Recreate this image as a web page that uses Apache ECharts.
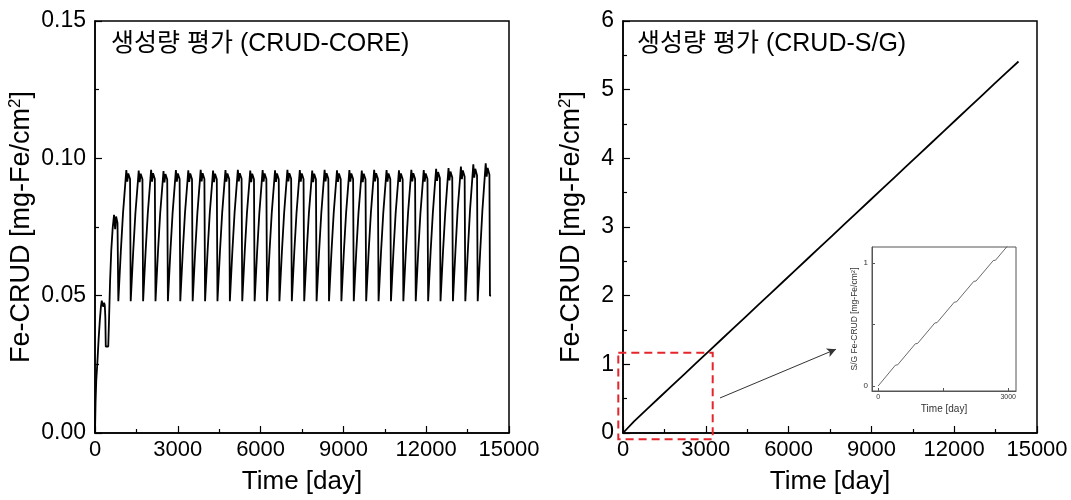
<!DOCTYPE html>
<html><head><meta charset="utf-8">
<script src="https://cdn.jsdelivr.net/npm/echarts@6/dist/echarts.min.js"></script>
<style>html,body{margin:0;padding:0;background:#fff}#c{width:1071px;height:500px}</style>
</head><body><div id="c"></div>
<script>
// ---- Data ----
const xTicks = [0, 3000, 6000, 9000, 12000, 15000];
const coreTitle = '생성량 평가 (CRUD-CORE)';
const sgTitle = '생성량 평가 (CRUD-S/G)';

// CRUD-CORE: time [day]
const coreT = [
  0,20,45,85,130,175,215,245,270,300,330,355,375,390,480,505,545,590,640,690,730,765,815,
  845,870,935,1015,1095,1135,1170,1205,1270,
  1294,1319,1384,1464,1544,1584,1619,1654,1719,
  1743,1768,1833,1913,1993,2033,2068,2103,2168,
  2192,2217,2282,2362,2442,2482,2517,2552,2617,
  2641,2666,2731,2811,2891,2931,2966,3001,3066,
  3090,3115,3180,3260,3340,3380,3415,3450,3515,
  3539,3564,3629,3709,3789,3829,3864,3899,3964,
  3988,4013,4078,4158,4238,4278,4313,4348,4413,
  4437,4462,4527,4607,4687,4727,4762,4797,4862,
  4886,4911,4976,5056,5136,5176,5211,5246,5311,
  5335,5360,5425,5505,5585,5625,5660,5695,5760,
  5784,5809,5874,5954,6034,6074,6109,6144,6209,
  6233,6258,6323,6403,6483,6523,6558,6593,6658,
  6682,6707,6772,6852,6932,6972,7007,7042,7107,
  7131,7156,7221,7301,7381,7421,7456,7491,7556,
  7580,7605,7670,7750,7830,7870,7905,7940,8005,
  8029,8054,8119,8199,8279,8319,8354,8389,8454,
  8478,8503,8568,8648,8728,8768,8803,8838,8903,
  8927,8952,9017,9097,9177,9217,9252,9287,9352,
  9376,9401,9466,9546,9626,9666,9701,9736,9801,
  9825,9850,9915,9995,10075,10115,10150,10185,10250,
  10274,10299,10364,10444,10524,10564,10599,10634,10699,
  10723,10748,10813,10893,10973,11013,11048,11083,11148,
  11172,11197,11262,11342,11422,11462,11497,11532,11597,
  11621,11646,11711,11791,11871,11911,11946,11981,12046,
  12070,12095,12160,12240,12320,12360,12395,12430,12495,
  12519,12544,12609,12689,12769,12809,12844,12879,12944,
  12968,12993,13058,13138,13218,13258,13293,13328,13393,
  13417,13442,13507,13587,13667,13707,13742,13777,13842,
  13866,13891,13956,14036,14116,14156,14191,14226,14291,
  14310,14350
];
// CRUD-CORE: Fe-CRUD [mg-Fe/cm2]
const coreV = [
  0,0.011,0.019,0.0255,0.034,0.041,0.046,0.0482,0.0468,0.046,0.0474,0.0465,0.042,0.0315,0.0315,0.040,0.055,0.0666,0.0745,0.0794,0.0742,0.0788,0.0765,
  0.048,0.0482,0.066,0.080,0.0905,0.0957,0.0915,0.0945,0.0925,
  0.048,0.0482,0.066,0.080,0.0903,0.0955,0.0913,0.0944,0.0924,
  0.048,0.0482,0.066,0.080,0.0905,0.0958,0.0915,0.0946,0.0925,
  0.048,0.0482,0.066,0.080,0.0902,0.0954,0.0912,0.0943,0.0923,
  0.048,0.0482,0.066,0.080,0.0905,0.0957,0.0915,0.0945,0.0925,
  0.048,0.0482,0.066,0.080,0.0904,0.0956,0.0914,0.0945,0.0924,
  0.048,0.0482,0.066,0.080,0.0905,0.0958,0.0916,0.0946,0.0925,
  0.048,0.0482,0.066,0.080,0.0903,0.0955,0.0913,0.0944,0.0924,
  0.048,0.0482,0.066,0.080,0.0905,0.0957,0.0915,0.0945,0.0925,
  0.048,0.0482,0.066,0.080,0.0906,0.0958,0.0916,0.0946,0.0926,
  0.048,0.0482,0.066,0.080,0.0903,0.0955,0.0913,0.0944,0.0924,
  0.048,0.0482,0.066,0.080,0.0905,0.0957,0.0915,0.0945,0.0925,
  0.048,0.0482,0.066,0.080,0.0904,0.0956,0.0914,0.0945,0.0924,
  0.048,0.0482,0.066,0.080,0.0906,0.0958,0.0916,0.0946,0.0926,
  0.048,0.0482,0.066,0.080,0.0905,0.0957,0.0915,0.0945,0.0925,
  0.048,0.0482,0.066,0.080,0.0903,0.0955,0.0913,0.0944,0.0924,
  0.048,0.0482,0.066,0.080,0.0906,0.0958,0.0916,0.0946,0.0926,
  0.048,0.0482,0.066,0.080,0.0904,0.0956,0.0914,0.0945,0.0924,
  0.048,0.0482,0.066,0.080,0.0905,0.0957,0.0915,0.0945,0.0925,
  0.048,0.0482,0.066,0.080,0.0903,0.0955,0.0913,0.0944,0.0924,
  0.048,0.0482,0.066,0.080,0.0906,0.0958,0.0916,0.0946,0.0926,
  0.048,0.0482,0.066,0.080,0.0905,0.0957,0.0915,0.0945,0.0925,
  0.048,0.0482,0.066,0.080,0.0904,0.0956,0.0914,0.0945,0.0924,
  0.048,0.0482,0.066,0.080,0.0906,0.0958,0.0916,0.0946,0.0926,
  0.048,0.0482,0.066,0.080,0.0905,0.0957,0.0915,0.0945,0.0925,
  0.048,0.0482,0.066,0.080,0.0910,0.0962,0.0918,0.0950,0.0928,
  0.048,0.0482,0.066,0.080,0.0912,0.0965,0.0920,0.0952,0.0930,
  0.048,0.0482,0.066,0.081,0.0916,0.0970,0.0924,0.0956,0.0933,
  0.048,0.0482,0.066,0.081,0.0922,0.0978,0.0930,0.0962,0.0938,
  0.048,0.0482,0.066,0.081,0.0925,0.0982,0.0933,0.0965,0.0940,
  0.050,0.050
];

// CRUD-S/G: time [day] and Fe-CRUD [mg-Fe/cm2]
const sgT = [0,400,450,860,910,1309,1359,1758,1808,2207,2257,2656,2706,3105,3155,3554,3604,4003,4053,4452,4502,4901,4951,5350,5400,5799,5849,6248,6298,6697,6747,7146,7196,7595,7645,8044,8094,8493,8543,8942,8992,9391,9441,9840,9890,10289,10339,10738,10788,11187,11237,11636,11686,12085,12135,12534,12584,12983,13033,13432,13482,13881,13931,14330];
const sgV = [0,0.170,0.172,0.344,0.346,0.513,0.515,0.682,0.684,0.851,0.853,1.020,1.022,1.189,1.191,1.358,1.360,1.527,1.529,1.696,1.698,1.865,1.867,2.034,2.036,2.203,2.205,2.372,2.374,2.541,2.543,2.710,2.712,2.879,2.881,3.048,3.050,3.217,3.219,3.386,3.388,3.555,3.557,3.724,3.726,3.893,3.895,4.062,4.064,4.231,4.233,4.400,4.402,4.569,4.571,4.738,4.740,4.907,4.909,5.076,5.078,5.245,5.247,5.410];

// Zoom box region and arrow (data coordinates of the S/G panel)
const zoomBox = [[-170, -0.09], [3250, 1.17]];
const arrowLine = [[3514, 0.51], [7717, 1.22]];

// ---- Build ----
const coreData = coreT.map((t, i) => [t, coreV[i]]);
const sgData = sgT.map((t, i) => [t, sgV[i]]);

const FONT = '"Liberation Sans", Arial, "Noto Sans CJK KR", sans-serif';
const KFONT = '"Liberation Sans", "Noto Sans CJK KR", sans-serif';

function mainX(gi) {
  return {
    type: 'value', gridIndex: gi, min: 0, max: 15000, interval: 3000,
    name: 'Time [day]', nameLocation: 'middle', nameGap: 36,
    nameTextStyle: {fontFamily: FONT, fontSize: 26, color: '#000'},
    axisLine: {show: true, onZero: false, lineStyle: {color: '#000', width: 1.5}},
    axisTick: {show: true, inside: true, length: 7, lineStyle: {color: '#000', width: 1.2}},
    minorTick: {show: true, splitNumber: 2, length: 4, lineStyle: {color: '#000', width: 1.2}},
    axisLabel: {fontFamily: FONT, fontSize: 22, color: '#000', margin: 6, formatter: v => String(v)},
    splitLine: {show: false}
  };
}
function mainY(gi, max, interval, fmt, gap) {
  return {
    type: 'value', gridIndex: gi, min: 0, max: max, interval: interval,
    name: 'Fe-CRUD [mg-Fe/cm{sup|2}]', nameLocation: 'middle', nameGap: gap,
    nameTextStyle: {fontFamily: FONT, fontSize: 27, color: '#000',
      rich: {sup: {fontFamily: FONT, fontSize: 17, color: '#000', padding: [0, 0, 13, 0]}}},
    axisLine: {show: true, onZero: false, lineStyle: {color: '#000', width: 1.5}},
    axisTick: {show: true, inside: true, length: 7, lineStyle: {color: '#000', width: 1.2}},
    minorTick: {show: true, splitNumber: 2, length: 4, lineStyle: {color: '#000', width: 1.2}},
    axisLabel: {fontFamily: FONT, fontSize: 23, color: '#000', margin: 9, formatter: fmt},
    splitLine: {show: false}
  };
}

const option = {
  backgroundColor: '#fff',
  animation: false,
  title: [
    {text: coreTitle, left: 106, top: 27, textStyle: {fontFamily: KFONT, fontSize: 25, fontWeight: 'normal', color: '#000'}},
    {text: sgTitle, left: 632, top: 27, textStyle: {fontFamily: KFONT, fontSize: 25, fontWeight: 'normal', color: '#000'}}
  ],
  grid: [
    {left: 95, top: 21, width: 414, height: 412, show: true, borderColor: '#000', borderWidth: 1.5, backgroundColor: 'transparent'},
    {left: 623, top: 21, width: 414, height: 412, show: true, borderColor: '#000', borderWidth: 1.5, backgroundColor: 'transparent'},
    {left: 872, top: 247, width: 144, height: 144, show: true, borderColor: '#555', borderWidth: 1, backgroundColor: '#fff'}
  ],
  xAxis: [
    mainX(0), mainX(1),
    {
      type: 'value', gridIndex: 2, min: -140, max: 3180,
      name: 'Time [day]', nameLocation: 'middle', nameGap: 13,
      nameTextStyle: {fontFamily: FONT, fontSize: 10, color: '#333'},
      axisLine: {show: true, onZero: false, lineStyle: {color: '#555', width: 1}},
      axisTick: {show: true, inside: true, length: 3, customValues: [0, 1500, 3000], lineStyle: {color: '#555'}},
      axisLabel: {fontFamily: FONT, fontSize: 7, color: '#333', margin: 3, customValues: [0, 3000], formatter: v => String(v)},
      splitLine: {show: false}
    }
  ],
  yAxis: [
    mainY(0, 0.15, 0.05, v => v.toFixed(2), 58),
    mainY(1, 6, 1, v => String(v), 36),
    {
      type: 'value', gridIndex: 2, min: -0.04, max: 1.13,
      name: 'S/G Fe-CRUD [mg-Fe/cm{sup|2}]', nameLocation: 'middle', nameGap: 12,
      nameTextStyle: {fontFamily: FONT, fontSize: 8.5, color: '#333',
        rich: {sup: {fontFamily: FONT, fontSize: 6, color: '#333', padding: [0, 0, 4, 0]}}},
      axisLine: {show: true, onZero: false, lineStyle: {color: '#555', width: 1}},
      axisTick: {show: true, inside: true, length: 3, customValues: [0, 0.5, 1], lineStyle: {color: '#555'}},
      axisLabel: {fontFamily: FONT, fontSize: 8, color: '#333', margin: 4, customValues: [0, 1]},
      splitLine: {show: false}
    }
  ],
  series: [
    {
      type: 'line', xAxisIndex: 0, yAxisIndex: 0, data: coreData,
      showSymbol: false, symbol: 'none', lineStyle: {color: '#000', width: 1.8}, z: 3
    },
    {
      type: 'line', xAxisIndex: 1, yAxisIndex: 1, data: sgData,
      showSymbol: false, symbol: 'none', lineStyle: {color: '#000', width: 1.8}, z: 3,
      markLine: {
        silent: true, symbol: ['none', 'arrow'], symbolSize: [7, 9],
        label: {show: false},
        lineStyle: {color: '#333', width: 1, type: 'solid'},
        data: [[{coord: arrowLine[0]}, {coord: arrowLine[1]}]]
      }
    },
    {
      type: 'line', xAxisIndex: 2, yAxisIndex: 2, data: sgData,
      showSymbol: false, symbol: 'none', lineStyle: {color: '#444', width: 0.8}, z: 5
    }
  ]
};
const chart = echarts.init(document.getElementById('c'), null, {renderer: 'canvas'});
chart.setOption(option);
// red dashed zoom box, placed from data coordinates of the S/G panel
const p0 = chart.convertToPixel({gridIndex: 1}, zoomBox[0]);
const p1 = chart.convertToPixel({gridIndex: 1}, zoomBox[1]);
chart.setOption({
  graphic: [{
    type: 'rect', z: 10, silent: true,
    shape: {x: Math.min(p0[0], p1[0]), y: Math.min(p0[1], p1[1]), width: Math.abs(p1[0] - p0[0]), height: Math.abs(p1[1] - p0[1])},
    style: {fill: 'none', stroke: '#e4252b', lineWidth: 2, lineDash: [8, 5]}
  }]
});
</script></body></html>
